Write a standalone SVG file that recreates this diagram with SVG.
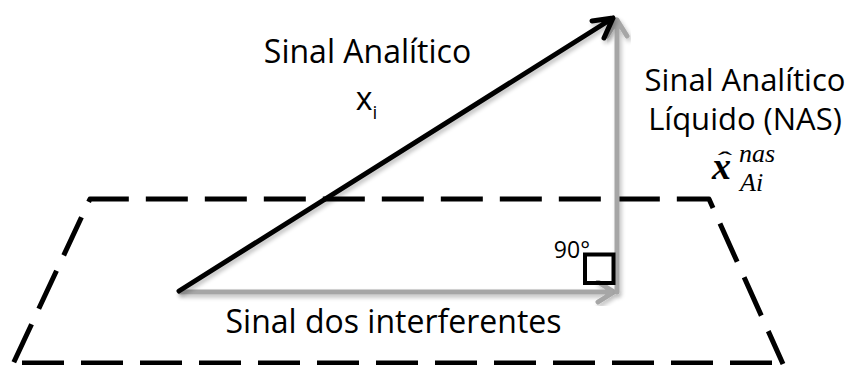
<svg xmlns="http://www.w3.org/2000/svg" width="853" height="365" viewBox="0 0 853 365">
<defs>
<style>
.t{font-family:"Open Sans","Liberation Sans",sans-serif;font-size:32px;fill:#000}
.m{font-family:"Liberation Serif","DejaVu Serif",serif;font-style:italic;fill:#000}
.dash{fill:none;stroke:#000;stroke-width:5;stroke-dasharray:42 17;stroke-linejoin:round}
.gray{fill:none;stroke:#a6a6a6;stroke-width:5;stroke-linecap:round;stroke-linejoin:round}
.blk{fill:none;stroke:#000;stroke-width:5;stroke-linecap:round;stroke-linejoin:round}
</style>
<filter id="sh" x="-10%" y="-10%" width="130%" height="130%"><feGaussianBlur in="SourceAlpha" stdDeviation="2"/><feOffset dx="2" dy="3"/><feComponentTransfer><feFuncA type="linear" slope="0.25"/></feComponentTransfer><feMerge><feMergeNode/><feMergeNode in="SourceGraphic"/></feMerge></filter>
</defs>
<g id="plane">
<path class="dash" stroke-dashoffset="-1.9" d="M13,364 L90,199 L709,199 L783,364"/>
<path class="dash" d="M22,363 L780,363"/>
</g>
<g id="connectors">
<g id="interferentes" filter="url(#sh)">
<path class="gray" d="M180,292 L614,292 M598,282 L614,292 L598,302"/>
</g>
<g id="nas" filter="url(#sh)">
<path class="gray" d="M617,292 L617,20 M607,36 L617,20 L627,36"/>
</g>
<g id="analitico" filter="url(#sh)">
<path class="blk" d="M179,291 L613,18 M592,21 L613,18 L604,38"/>
</g>
</g>
<g id="rightangle">
<path d="M585,283 L585,254.5 L613.5,254.5 L613.5,283 Z" fill="none" stroke="#000" stroke-width="4"/>
<text class="t" x="590" y="258" text-anchor="end" style="font-size:23px">90°</text>
</g>
<g id="label-analitico">
<text class="t" x="367.5" y="63" text-anchor="middle">Sinal Analítico</text>
<text class="t" x="364" y="110" text-anchor="middle">x</text>
<text class="t" x="375" y="119" style="font-size:19px" text-anchor="middle">i</text>
</g>
<g id="label-nas">
<text class="t" x="745" y="91" text-anchor="middle" style="font-size:31px">Sinal Analítico</text>
<text class="t" x="745" y="130" text-anchor="middle" style="font-size:31px">Líquido (NAS)</text>
<text class="m" x="712" y="179" style="font-size:38px;font-weight:bold">x</text>
<text class="m" x="725" y="168" transform="translate(725 0) scale(1.8 1) translate(-725 0)" style="font-size:24px;font-style:normal" text-anchor="middle">ˆ</text>
<text class="m" x="739" y="162" style="font-size:26px">nas</text>
<text class="m" x="740" y="191" style="font-size:26px">Ai</text>
</g>
<g id="label-interferentes">
<text class="t" x="393.5" y="333" text-anchor="middle">Sinal dos interferentes</text>
</g>
</svg>
